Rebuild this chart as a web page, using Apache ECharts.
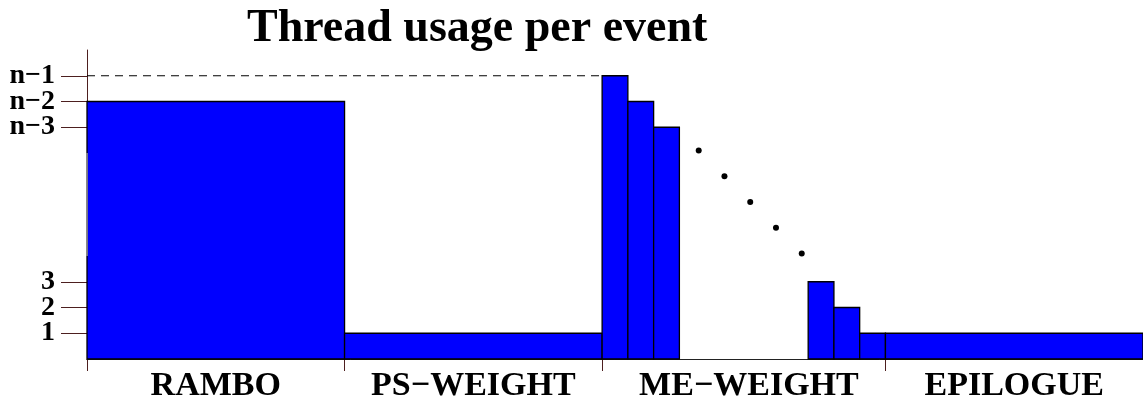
<!DOCTYPE html>
<html>
<head>
<meta charset="utf-8">
<script src="https://cdn.jsdelivr.net/npm/echarts@6/dist/echarts.min.js"></script>
<style>
html,body{margin:0;padding:0;background:#fff;}
#c{width:1143px;height:403px;}
</style>
</head>
<body>
<div id="c"></div>
<script>
// Section labels on the x axis
const sectionNames = ['RAMBO', 'PS\u2212WEIGHT', 'ME\u2212WEIGHT', 'EPILOGUE'];
const sectionBounds = [0, 10, 20, 31];
const sectionCenters = [5, 15, 25.7, 36];
// Bars: start, end, thread count
const barStart = [0, 10, 20, 21, 22, 28, 29, 30, 31];
const barEnd   = [10, 20, 21, 22, 23, 29, 30, 31, 41];
const barValue = [10, 1, 11, 10, 9, 3, 2, 1, 1];
// Y tick values and labels
const yTickValues = [1, 2, 3, 9, 10, 11];
const yTickLabels = ['1', '2', '3', 'n\u22123', 'n\u22122', 'n\u22121'];
// Ellipsis dots
const dotX = [23.75, 24.75, 25.75, 26.75, 27.75];
const dotY = [8.1, 7.1, 6.1, 5.1, 4.1];
// Dashed reference line at n-1
const refLineX = [0, 20];
const refLineY = 11;

const FONT = "'Liberation Serif', 'Times New Roman', serif";
const AXIS_COLOR = '#4d1f1f';

const chart = echarts.init(document.getElementById('c'));
const barData = barStart.map((s, i) => [s, barEnd[i], barValue[i]]);

// split ticks into two interleaved groups so neighbouring labels are never hidden
const yGroupA = yTickValues.filter((v, i) => i % 2 === 0);
const yGroupB = yTickValues.filter((v, i) => i % 2 === 1);

function makeYAxis(values, showLine) {
  return {
    type: 'value', min: 0, max: 12, position: 'left',
    axisLine: {show: showLine, lineStyle: {color: AXIS_COLOR, width: 1}},
    axisTick: {show: true, customValues: values, length: 26, lineStyle: {color: AXIS_COLOR, width: 1}},
    axisLabel: {
      customValues: values,
      showMinLabel: true, showMaxLabel: true, hideOverlap: false,
      formatter: v => yTickLabels[yTickValues.indexOf(v)] || '',
      fontFamily: FONT, fontWeight: 'bold', fontSize: 28, color: '#000', margin: 32
    },
    splitLine: {show: false}
  };
}

chart.setOption({
  animation: false,
  title: {
    text: 'Thread usage per event',
    left: 242, top: 1,
    textStyle: {fontFamily: FONT, fontWeight: 'bold', fontSize: 46, color: '#000'}
  },
  grid: {left: 87, right: 0, top: 50, bottom: 43},
  xAxis: {
    type: 'value', min: 0, max: 41,
    axisLine: {show: true, lineStyle: {color: '#222', width: 1}},
    axisTick: {show: true, customValues: sectionBounds, length: 12, lineStyle: {color: AXIS_COLOR, width: 1}},
    axisLabel: {
      customValues: sectionCenters,
      showMinLabel: true, showMaxLabel: true, hideOverlap: false,
      formatter: v => sectionNames[sectionCenters.indexOf(v)] || '',
      fontFamily: FONT, fontWeight: 'bold', fontSize: 34, color: '#000', margin: 10
    },
    splitLine: {show: false}
  },
  yAxis: [makeYAxis(yGroupA, true), makeYAxis(yGroupB, false)],
  series: [
    {
      type: 'line',
      data: [[refLineX[0], refLineY], [refLineX[1], refLineY]],
      symbol: 'none',
      lineStyle: {color: '#000', width: 1, type: [8, 6]},
      z: 1
    },
    {
      type: 'line',
      data: [[0, 4], [0, 8]],
      symbol: 'none',
      clip: false,
      lineStyle: {color: '#999', width: 1.5},
      z: 5
    },
    {
      type: 'custom',
      data: barData,
      encode: {x: [0, 1], y: 2},
      renderItem: function (params, api) {
        const p0 = api.coord([api.value(0), 0]);
        const p1 = api.coord([api.value(1), api.value(2)]);
        return {
          type: 'rect',
          shape: {x: p0[0], y: p1[1], width: p1[0] - p0[0], height: p0[1] - p1[1]},
          style: {fill: '#0000ff', stroke: '#000', lineWidth: 1.3}
        };
      },
      z: 2
    },
    {
      type: 'scatter',
      data: dotX.map((x, i) => [x, dotY[i]]),
      symbolSize: 6,
      itemStyle: {color: '#000', opacity: 1},
      z: 3
    }
  ]
});
</script>
</body>
</html>
